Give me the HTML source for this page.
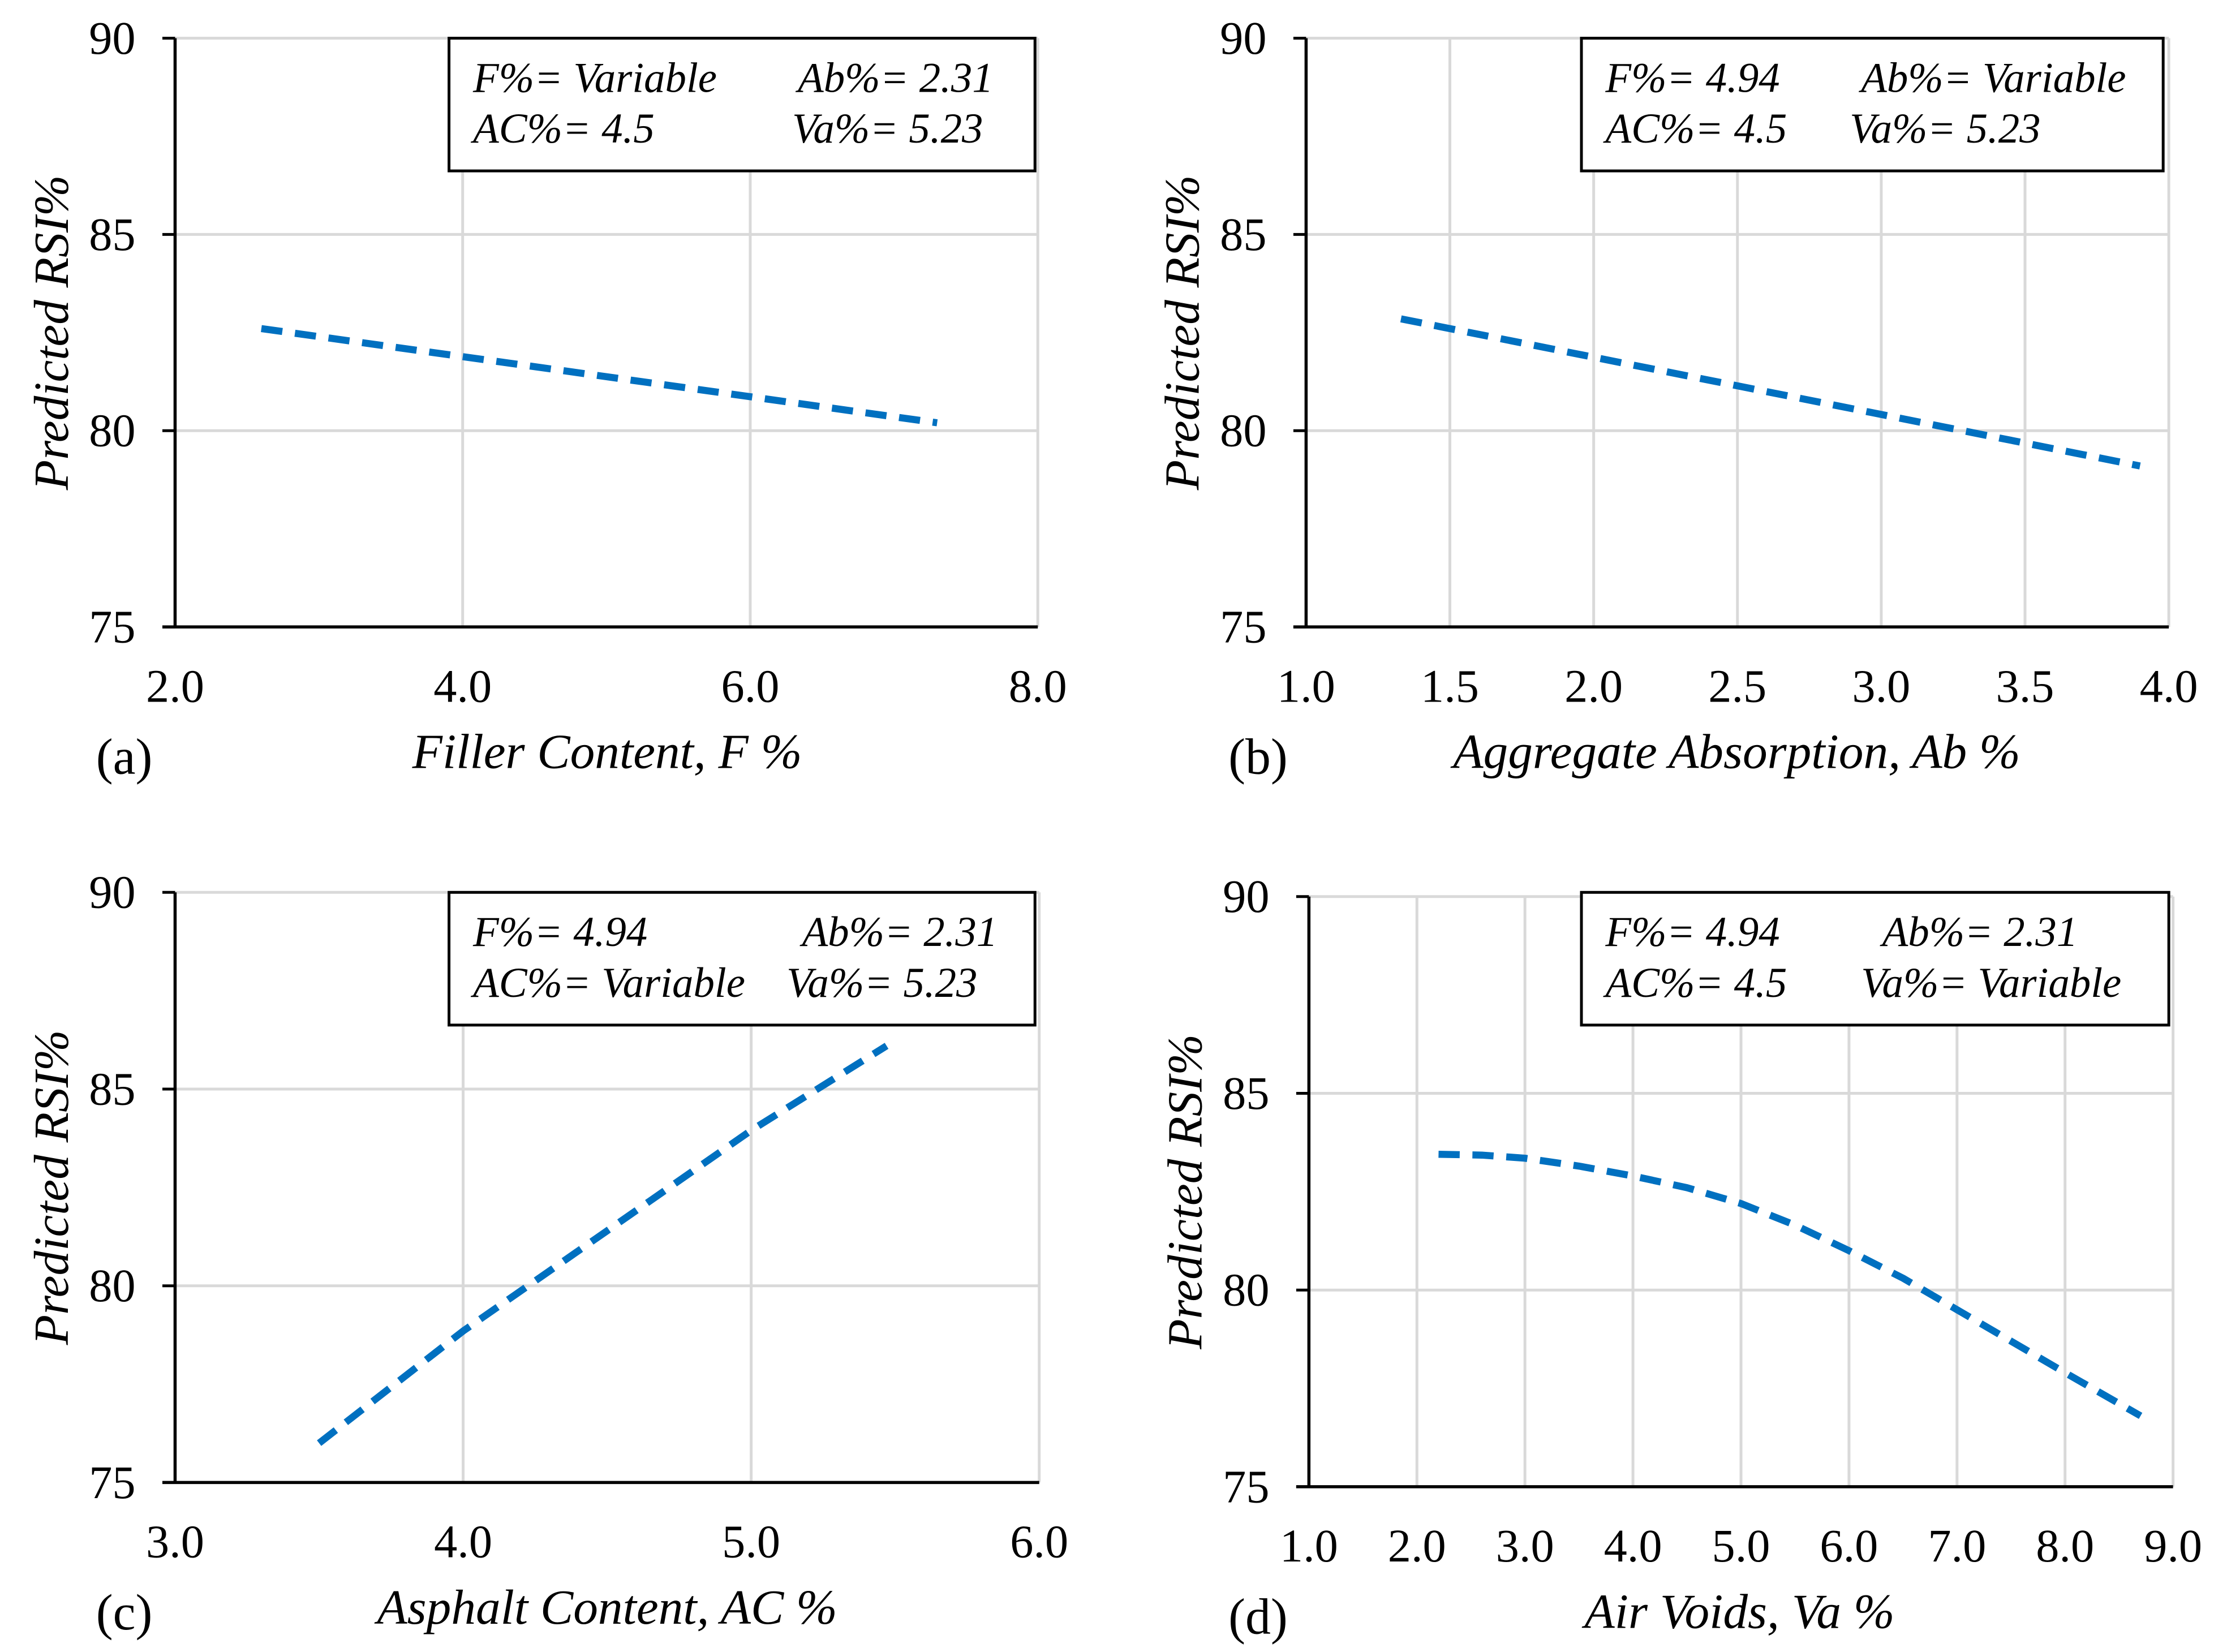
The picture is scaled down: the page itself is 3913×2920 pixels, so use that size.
<!DOCTYPE html>
<html><head><meta charset="utf-8"><style>
html,body{margin:0;padding:0;background:#fff;}
svg{display:block;}
text{font-family:"Liberation Serif",serif;fill:#000;}
.it{font-style:italic;}
</style></head><body>
<svg id="fig" width="3913" height="2920" viewBox="0 0 1568 1170" xmlns="http://www.w3.org/2000/svg"></svg>
<script>
// Panel data
const aX = [2.6, 7.3];
const aY = [82.6, 80.2];
const bX = [1.33, 3.9];
const bY = [82.85, 79.1];
const cX = [3.5, 4.0, 4.5, 5.0, 5.47];
const cY = [76.0, 78.85, 81.4, 83.95, 86.1];
const dX = [2.2, 2.6, 3.0, 3.5, 4.0, 4.5, 5.0, 5.5, 6.0, 6.5, 7.0, 7.5, 8.0, 8.7];
const dY = [83.45, 83.43, 83.35, 83.15, 82.9, 82.6, 82.2, 81.65, 81.0, 80.3, 79.5, 78.7, 77.9, 76.8];
const yTicks = [75, 80, 85, 90];
const aTicks = [2.0, 4.0, 6.0, 8.0];
const bTicks = [1.0, 1.5, 2.0, 2.5, 3.0, 3.5, 4.0];
const cTicks = [3.0, 4.0, 5.0, 6.0];
const dTicks = [1.0, 2.0, 3.0, 4.0, 5.0, 6.0, 7.0, 8.0, 9.0];

const NS = "http://www.w3.org/2000/svg";
const svg = document.getElementById('fig');
function mk(tag, attrs, parent, txt) {
  const e = document.createElementNS(NS, tag);
  for (const k in attrs) e.setAttribute(k, attrs[k]);
  if (txt !== undefined) e.textContent = txt;
  (parent || svg).appendChild(e);
  return e;
}

const panels = [
  {id:'a', x0:124, x1:735, yTop:27, yBot:444, xmin:2, xmax:8, ticks:aTicks, xs:aX, ys:aY,
   title:'Filler Content, F %', titleX:430, label:'(a)', lx:68, leg:[318,27,415,94],
   l1:['F%= Variable','Ab%= 2.31'], l2:['AC%= 4.5','Va%= 5.23'], c2:565, c2b:561},
  {id:'b', x0:925, x1:1536, yTop:27, yBot:444, xmin:1, xmax:4, ticks:bTicks, xs:bX, ys:bY,
   title:'Aggregate Absorption, Ab %', titleX:1230, label:'(b)', lx:870, leg:[1120,27,412,94],
   l1:['F%= 4.94','Ab%= Variable'], l2:['AC%= 4.5','Va%= 5.23'], c2:1318, c2b:1310},
  {id:'c', x0:124, x1:736, yTop:632, yBot:1050, xmin:3, xmax:6, ticks:cTicks, xs:cX, ys:cY,
   title:'Asphalt Content, AC %', titleX:430, label:'(c)', lx:68, leg:[318,632,415,94],
   l1:['F%= 4.94','Ab%= 2.31'], l2:['AC%= Variable','Va%= 5.23'], c2:568, c2b:557},
  {id:'d', x0:927, x1:1539, yTop:635, yBot:1053, xmin:1, xmax:9, ticks:dTicks, xs:dX, ys:dY,
   title:'Air Voids, Va %', titleX:1232, label:'(d)', lx:870, leg:[1120,632,416,94],
   l1:['F%= 4.94','Ab%= 2.31'], l2:['AC%= 4.5','Va%= Variable'], c2:1333, c2b:1318}
];

panels.forEach(p => {
  const g = mk('g', {});
  
  
  const sx = v => p.x0 + (v - p.xmin) / (p.xmax - p.xmin) * (p.x1 - p.x0);
  const sy = v => p.yBot - (v - 75) / 15 * (p.yBot - p.yTop);
  p.ticks.forEach((t, i) => {
    if (i > 0) {
      const l = mk('line', {x1:sx(t), x2:sx(t), y1:p.yTop, y2:p.yBot, stroke:'#d9d9d9', 'stroke-width':2}, g);
      
      
    }
    const tx = mk('text', {x:sx(t), y:p.yBot + 53, 'font-size':33, 'text-anchor':'middle'}, g, t.toFixed(1));
    
    
  });
  yTicks.forEach((t, i) => {
    if (i > 0) {
      const l = mk('line', {x1:p.x0, x2:p.x1, y1:sy(t), y2:sy(t), stroke:'#d9d9d9', 'stroke-width':2}, g);
      
      
    }
    const tx = mk('text', {x:p.x0 - 28, y:sy(t) + 11, 'font-size':33, 'text-anchor':'end'}, g, String(t));
    
    
  });
  const ya = mk('line', {x1:p.x0, x2:p.x0, y1:p.yTop, y2:p.yBot, stroke:'#000', 'stroke-width':2.2}, g);
  
  
  const xa = mk('line', {x1:p.x0 - 9, x2:p.x1, y1:p.yBot, y2:p.yBot, stroke:'#000', 'stroke-width':2.2}, g);
  
  
  yTicks.forEach(t => {
    const tk = mk('line', {x1:p.x0 - 9, x2:p.x0, y1:sy(t), y2:sy(t), stroke:'#000', 'stroke-width':2}, g);
    
    
  });
  let d = '';
  p.xs.forEach((v, i) => { d += (i ? 'L' : 'M') + sx(v).toFixed(1) + ' ' + sy(p.ys[i]).toFixed(1) + ' '; });
  const path = mk('path', {d:d, fill:'none', stroke:'#0070c0', 'stroke-width':5, 'stroke-dasharray':'15 9', 'stroke-linejoin':'round'}, g);
  
  
  const [bx, by, bw, bh] = p.leg;
  const lg = mk('g', {}, g);
  
  
  mk('rect', {x:bx, y:by, width:bw, height:bh, fill:'#fff', stroke:'#000', 'stroke-width':2}, lg);
  const c1 = bx + 17;
  const t1 = mk('text', {x:c1, y:by + 38, 'font-size':30, class:'it'}, lg, p.l1[0]);
  
  
  const t2 = mk('text', {x:p.c2, y:by + 38, 'font-size':30, class:'it'}, lg, p.l1[1]);
  
  
  const t3 = mk('text', {x:c1, y:by + 74, 'font-size':30, class:'it'}, lg, p.l2[0]);
  
  
  const t4 = mk('text', {x:p.c2b, y:by + 74, 'font-size':30, class:'it'}, lg, p.l2[1]);
  
  
  const xt = mk('text', {x:p.titleX, y:p.yBot + 100, 'font-size':35, class:'it', 'text-anchor':'middle'}, g, p.title);
  
  
  const lb = mk('text', {x:p.lx, y:p.yBot + 104, 'font-size':36}, g, p.label);
  
  
  const cy = (p.yTop + p.yBot) / 2;
  const yt = mk('text', {x:0, y:0, 'font-size':35, class:'it', 'text-anchor':'middle', transform:'translate(' + (p.x0 - 76) + ',' + cy + ') rotate(-90)'}, g, 'Predicted RSI%');
  
  
});
</script>
</body></html>
